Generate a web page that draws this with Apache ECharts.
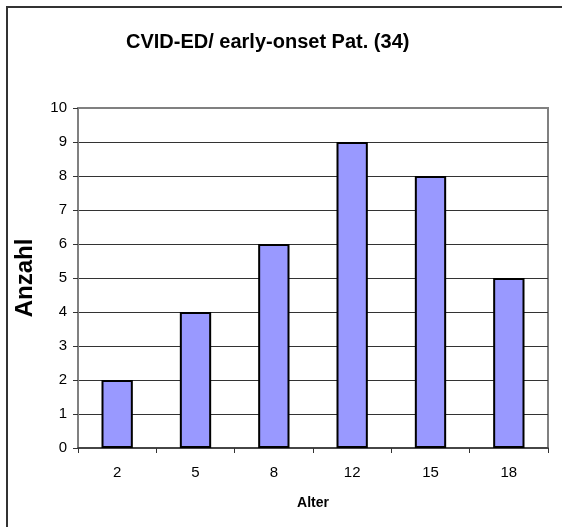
<!DOCTYPE html>
<html>
<head>
<meta charset="utf-8">
<script src="https://cdn.jsdelivr.net/npm/echarts@6/dist/echarts.min.js"></script>
<style>
  html, body { margin: 0; padding: 0; background: #fff; }
  #wrap { position: relative; width: 562px; height: 527px; }
  #chart { position: absolute; left: 0; top: 0; width: 562px; height: 527px; }
  #frame { position: absolute; left: 6px; top: 6px; right: 0; bottom: 0;
           border-left: 2px solid #333; border-top: 2px solid #333; pointer-events: none; }
</style>
</head>
<body>
<div id="wrap">
  <div id="chart"></div>
  <div id="frame"></div>
</div>
<script>
// Age groups and patient counts
const ageGroups = ['2', '5', '8', '12', '15', '18'];
const patientCounts = [2, 4, 6, 9, 8, 5];
const titleText = 'CVID-ED/ early-onset Pat. (34)';
const xAxisName = 'Alter';
const yAxisName = 'Anzahl';

const FONT = 'Liberation Sans, Arial, sans-serif';

const chart = echarts.init(document.getElementById('chart'), null, { renderer: 'canvas' });
chart.setOption({
  animation: false,
  backgroundColor: '#fff',
  title: {
    text: titleText,
    left: 121,
    top: 27,
    textStyle: { fontFamily: FONT, fontSize: 20, fontWeight: 'bold', color: '#000' }
  },
  grid: {
    left: 78, top: 108, right: 14, bottom: 79,
    show: true, borderColor: '#808080', borderWidth: 2, backgroundColor: '#fff'
  },
  xAxis: {
    type: 'category',
    data: ageGroups,
    name: xAxisName,
    nameLocation: 'middle',
    nameGap: 48,
    nameTextStyle: { fontFamily: FONT, fontSize: 14, fontWeight: 'bold', color: '#000' },
    axisLine: { lineStyle: { color: '#333', width: 1.5 } },
    axisTick: { show: true, length: 5, inside: false, alignWithLabel: false, lineStyle: { color: '#333' } },
    axisLabel: { margin: 17, fontFamily: FONT, fontSize: 15, color: '#000' },
    splitLine: { show: false }
  },
  yAxis: {
    type: 'value',
    min: 0, max: 10, interval: 1,
    name: yAxisName,
    nameLocation: 'middle',
    nameRotate: 90,
    nameGap: 41,
    nameTextStyle: { fontFamily: FONT, fontSize: 24, fontWeight: 'bold', color: '#000' },
    axisLine: { show: true, lineStyle: { color: '#808080', width: 2 } },
    axisTick: { show: true, length: 5, lineStyle: { color: '#333' } },
    axisLabel: { margin: 11, fontFamily: FONT, fontSize: 15, color: '#000' },
    splitLine: { show: true, showMaxLine: false, showMinLine: false, lineStyle: { color: '#333', width: 1 } }
  },
  series: [{
    type: 'bar',
    data: patientCounts,
    barWidth: '40%',
    itemStyle: { color: '#9999FF', borderColor: '#000', borderWidth: 2 }
  }]
});
</script>
</body>
</html>
